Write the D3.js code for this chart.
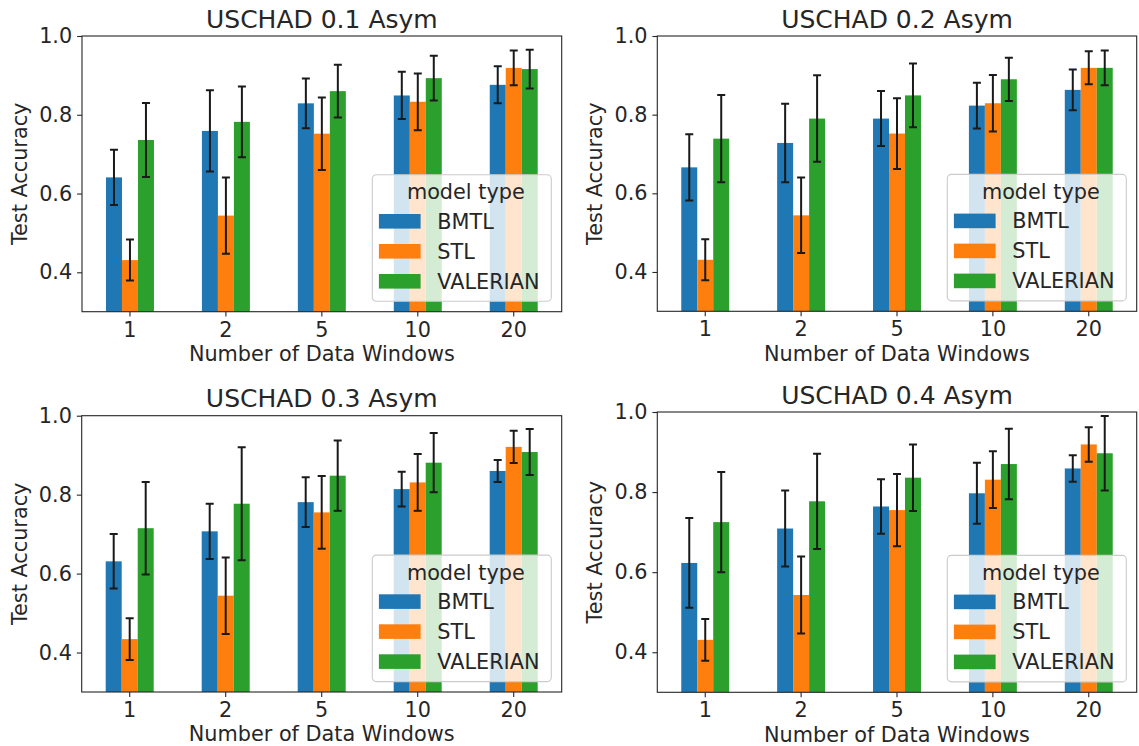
<!DOCTYPE html>
<html>
<head>
<meta charset="utf-8">
<script src="https://cdn.jsdelivr.net/npm/d3@7"></script>
<style>
  body { margin: 0; background: #fff; }
  text { font-family: "DejaVu Sans", sans-serif; fill: #262626; }
</style>
</head>
<body>
<svg id="chart" width="1139" height="746"></svg>
<script>
// categories and series
const windows = ["1", "2", "5", "10", "20"];
const models = ["BMTL", "STL", "VALERIAN"];
const titles = ["USCHAD 0.1 Asym", "USCHAD 0.2 Asym", "USCHAD 0.3 Asym", "USCHAD 0.4 Asym"];
const yTicks = [0.4, 0.6, 0.8, 1.0];

// mean test accuracy, one row per model (BMTL, STL, VALERIAN)
const acc01 = [
  [0.641, 0.759, 0.829, 0.849, 0.876],
  [0.431, 0.544, 0.752, 0.833, 0.919],
  [0.736, 0.782, 0.860, 0.893, 0.916]
];
const err01 = [
  [0.070, 0.103, 0.063, 0.060, 0.047],
  [0.052, 0.097, 0.092, 0.072, 0.044],
  [0.094, 0.090, 0.067, 0.057, 0.049]
];
const acc02 = [
  [0.666, 0.728, 0.790, 0.823, 0.863],
  [0.431, 0.544, 0.752, 0.829, 0.919],
  [0.739, 0.790, 0.849, 0.890, 0.919]
];
const err02 = [
  [0.084, 0.100, 0.070, 0.058, 0.052],
  [0.052, 0.096, 0.090, 0.072, 0.042],
  [0.111, 0.110, 0.081, 0.055, 0.044]
];
const acc03 = [
  [0.631, 0.707, 0.781, 0.814, 0.860],
  [0.434, 0.544, 0.755, 0.831, 0.921],
  [0.715, 0.777, 0.848, 0.881, 0.908]
];
const err03 = [
  [0.069, 0.070, 0.063, 0.044, 0.028],
  [0.053, 0.097, 0.092, 0.072, 0.041],
  [0.117, 0.143, 0.089, 0.075, 0.058]
];
const acc04 = [
  [0.623, 0.709, 0.764, 0.797, 0.859],
  [0.431, 0.543, 0.755, 0.831, 0.919],
  [0.725, 0.777, 0.836, 0.870, 0.897]
];
const err04 = [
  [0.112, 0.095, 0.068, 0.076, 0.033],
  [0.052, 0.096, 0.090, 0.071, 0.043],
  [0.125, 0.119, 0.083, 0.088, 0.093]
];

const means = [acc01, acc02, acc03, acc04];
const errs = [err01, err02, err03, err04];

// axes frames of the four panels
const frames = [
  { x: 82, y: 36, w: 479.7, h: 275.7 },
  { x: 657.3, y: 36, w: 479.4, h: 275.3 },
  { x: 81.7, y: 415.7, w: 480, h: 276.3 },
  { x: 657.3, y: 412, w: 479.4, h: 280.3 }
];

const colors = d3.scaleOrdinal().domain(models).range(["#1f77b4", "#ff7f0e", "#2ca02c"]);
const fs = 20.8;
const svg = d3.select("#chart");

frames.forEach((f, p) => {
  const g = svg.append("g").attr("transform", `translate(${f.x},${f.y})`);

  const x = d3.scaleBand().domain(windows).range([0, f.w])
    .paddingInner(0.5).paddingOuter(0.25);
  const xs = d3.scaleBand().domain(models).range([0, x.bandwidth()]);
  const y = d3.scaleLinear().domain([0.3, 1.0]).range([f.h, 0]);

  g.append("clipPath").attr("id", "clip" + p)
    .append("rect").attr("width", f.w).attr("height", f.h);

  const plot = g.append("g").attr("clip-path", `url(#clip${p})`);

  const rows = [];
  models.forEach((m, j) => {
    windows.forEach((w, i) => {
      rows.push({ model: m, win: w, v: means[p][j][i], e: errs[p][j][i] });
    });
  });

  plot.selectAll("rect.bar").data(rows).join("rect")
    .attr("class", "bar")
    .attr("x", d => x(d.win) + xs(d.model))
    .attr("width", xs.bandwidth())
    .attr("y", d => y(d.v))
    .attr("height", d => y(0.3) - y(d.v) + 2)
    .attr("fill", d => colors(d.model));

  // error bars
  const eb = plot.selectAll("g.err").data(rows).join("g").attr("class", "err")
    .attr("stroke", "#1a1a1a").attr("stroke-width", 2);
  const cx = d => x(d.win) + xs(d.model) + xs.bandwidth() / 2;
  eb.append("line")
    .attr("x1", cx).attr("x2", cx)
    .attr("y1", d => y(d.v - d.e)).attr("y2", d => y(d.v + d.e));
  eb.append("line")
    .attr("x1", d => cx(d) - 4).attr("x2", d => cx(d) + 4)
    .attr("y1", d => y(d.v + d.e)).attr("y2", d => y(d.v + d.e));
  eb.append("line")
    .attr("x1", d => cx(d) - 4).attr("x2", d => cx(d) + 4)
    .attr("y1", d => y(d.v - d.e)).attr("y2", d => y(d.v - d.e));

  // axes
  const xAxis = g.append("g").attr("transform", `translate(0,${f.h})`)
    .call(d3.axisBottom(x).tickSize(4.9).tickPadding(4.9).tickSizeOuter(0));
  const yAxis = g.append("g")
    .call(d3.axisLeft(y).tickValues(yTicks).tickFormat(d3.format(".1f"))
      .tickSize(4.9).tickPadding(4.9).tickSizeOuter(0));
  [xAxis, yAxis].forEach(a => {
    a.select(".domain").remove();
    a.selectAll(".tick line").attr("stroke", "#262626").attr("stroke-width", 1.1);
    a.selectAll(".tick text").style("font-size", fs + "px").attr("fill", "#262626");
  });
  xAxis.selectAll(".tick text").attr("dy", "0.74em");

  g.append("rect").attr("width", f.w).attr("height", f.h)
    .attr("fill", "none").attr("stroke", "#262626").attr("stroke-width", 1.1);

  // titles and labels
  g.append("text").attr("x", f.w / 2).attr("y", -8.3)
    .attr("text-anchor", "middle").style("font-size", "25px")
    .text(titles[p]);
  g.append("text").attr("x", f.w / 2).attr("y", f.h + 49.5)
    .attr("text-anchor", "middle").style("font-size", fs + "px")
    .text("Number of Data Windows");
  g.append("text")
    .attr("transform", `translate(-55,${f.h / 2}) rotate(-90)`)
    .attr("text-anchor", "middle").style("font-size", fs + "px")
    .text("Test Accuracy");

  // legend, lower right
  const lw = 179, lh = 126.5;
  const lg = g.append("g")
    .attr("transform", `translate(${f.w - 10.4 - lw},${f.h - 10.4 - lh})`);
  lg.append("rect").attr("width", lw).attr("height", lh).attr("rx", 4)
    .attr("fill", "#fff").attr("fill-opacity", 0.8)
    .attr("stroke", "#cccccc").attr("stroke-width", 1.1);
  lg.append("text").attr("x", lw / 2 + 4).attr("y", 17.4).attr("dy", "0.35em")
    .attr("text-anchor", "middle").style("font-size", fs + "px")
    .text("model type");
  const items = lg.selectAll("g.item").data(models).join("g").attr("class", "item")
    .attr("transform", (d, i) => `translate(6.6,${46.5 + i * 30})`);
  items.append("rect").attr("y", -7.3).attr("width", 41.7).attr("height", 14.6)
    .attr("fill", d => colors(d));
  items.append("text").attr("x", 41.7 + 16.7).attr("dy", "0.35em")
    .style("font-size", fs + "px").text(d => d);
});
</script>
</body>
</html>
